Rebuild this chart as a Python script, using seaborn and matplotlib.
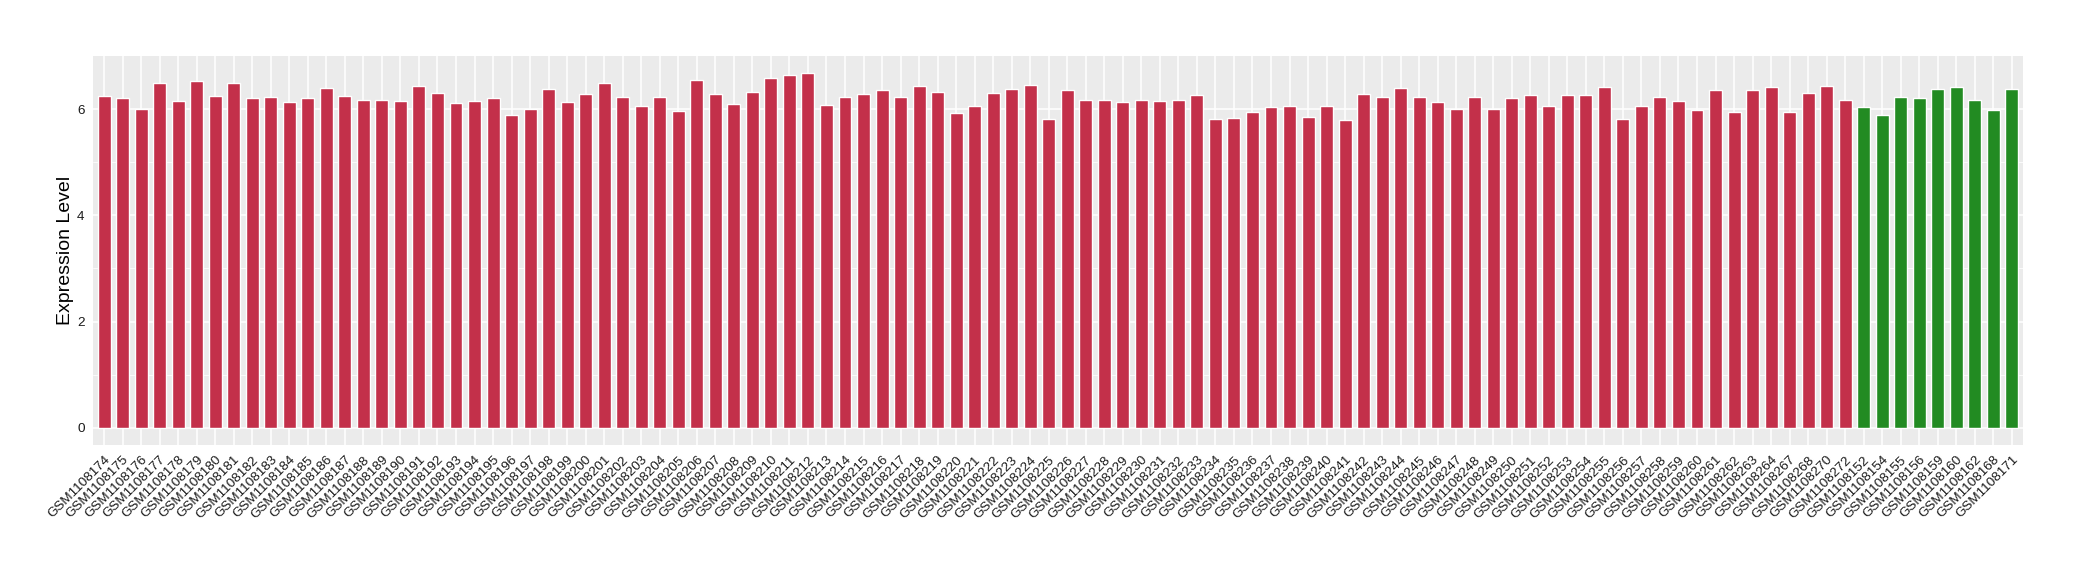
import numpy as np
import pandas as pd
import matplotlib
matplotlib.use("Agg")
import matplotlib.pyplot as plt
import seaborn as sns

# sample ids (GSM1108xxx) and expression values
red_ids = list(range(174, 265)) + [267, 268, 270, 272]
red_vals = [6.25, 6.20, 6.01, 6.50, 6.16, 6.52, 6.25, 6.50, 6.20, 6.22,
            6.14, 6.20, 6.39, 6.25, 6.18, 6.18, 6.16, 6.44, 6.31, 6.12,
            6.16, 6.20, 5.88, 6.01, 6.37, 6.14, 6.29, 6.50, 6.23, 6.06,
            6.22, 5.97, 6.54, 6.29, 6.10, 6.33, 6.58, 6.65, 6.67, 6.08,
            6.23, 6.29, 6.35, 6.22, 6.43, 6.33, 5.92, 6.06, 6.31, 6.37,
            6.46, 5.81, 6.35, 6.18, 6.18, 6.14, 6.18, 6.16, 6.18, 6.27,
            5.81, 5.84, 5.95, 6.03, 6.06, 5.86, 6.05, 5.79, 6.29, 6.23,
            6.39, 6.23, 6.14, 6.01, 6.22, 6.01, 6.20, 6.27, 6.05, 6.27,
            6.27, 6.41, 5.81, 6.06, 6.22, 6.16, 5.99, 6.35, 5.95, 6.35,
            6.41, 5.94, 6.31, 6.44, 6.18]
green_ids = [152, 154, 155, 156, 159, 160, 162, 168, 171]
green_vals = [6.03, 5.88, 6.23, 6.20, 6.37, 6.41, 6.18, 5.99, 6.37]

samples = ["GSM1108%d" % i for i in red_ids] + ["GSM1108%d" % i for i in green_ids]
df = pd.DataFrame({
    "sample": samples,
    "level": red_vals + green_vals,
    "group": ["red"] * len(red_ids) + ["green"] * len(green_ids),
})

sns.set_style("darkgrid", {"axes.facecolor": "#EBEBEB", "grid.color": "white"})
plt.rcParams["font.family"] = ["Liberation Sans", "DejaVu Sans"]

fig = plt.figure(figsize=(20.8, 5.8), dpi=100)
ax = fig.add_axes([0.0447, 0.2319, 0.9279, 0.6716])

sns.barplot(data=df, x="sample", y="level", hue="group", order=samples,
            palette={"red": "#C3304A", "green": "#228B22"}, width=0.7,
            saturation=1, dodge=False, legend=False, ax=ax)

ax.set_xlim(-0.6, len(samples) - 0.4)
ax.set_ylim(-0.333, 7.0)
ax.set_yticks([0, 2, 4, 6])
ax.set_yticks([1, 3, 5], minor=True)
ax.set_axisbelow(True)
ax.grid(which="major", color="white", linewidth=1.1)
ax.yaxis.grid(which="minor", color="white", linewidth=0.55)
ax.xaxis.grid(True, which="major", color="white", linewidth=1.1)
for s in ax.spines.values():
    s.set_visible(False)

ax.tick_params(axis="both", which="major", length=4, width=0.8,
               color="#333333", labelcolor="#1A1A1A", labelsize=9.7, pad=2)
ax.tick_params(axis="y", which="minor", length=0)
plt.setp(ax.get_xticklabels(), rotation=45, ha="right", va="top",
         rotation_mode="anchor")

ax.set_xlabel("")
ax.set_ylabel("Expression Level", fontsize=14, color="black", labelpad=2)

fig.savefig("out.png", dpi=100)
